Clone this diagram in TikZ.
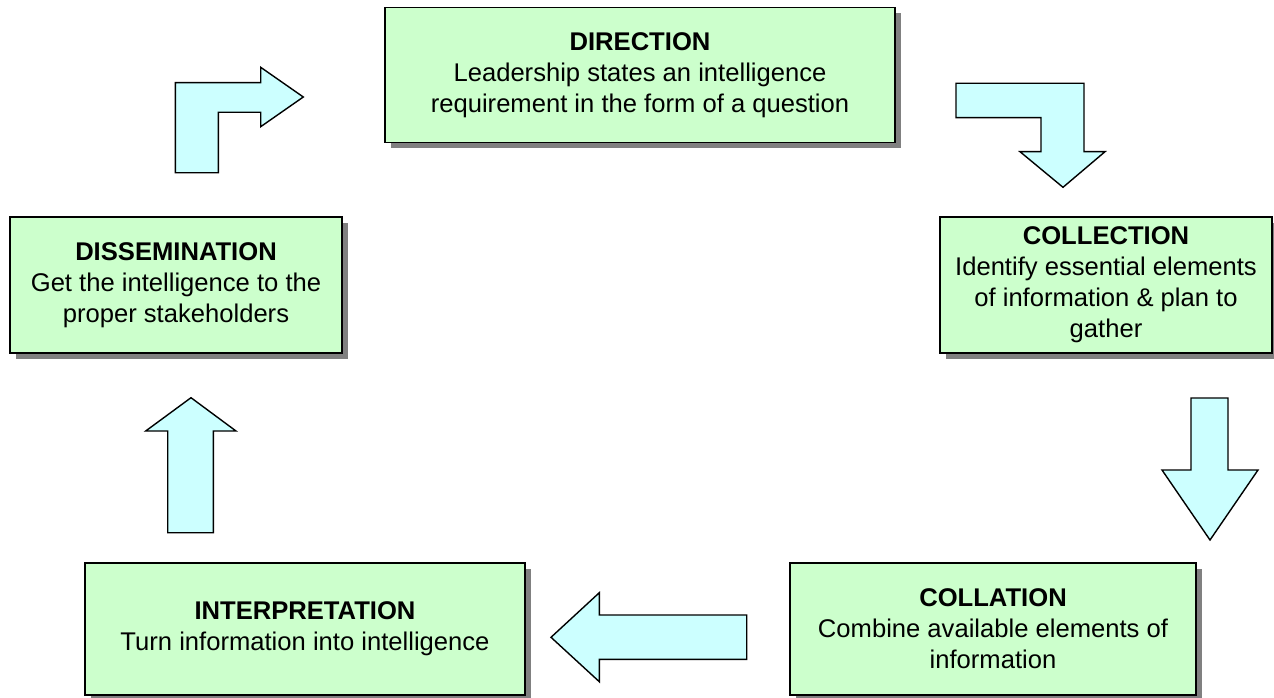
\documentclass[tikz,border=0pt]{standalone}
\usepackage{fontspec}
\setmainfont{Liberation Sans}
\usetikzlibrary{shadows}
\definecolor{boxgreen}{HTML}{CCFFCC}
\definecolor{arrowcyan}{HTML}{CCFFFF}
\definecolor{shadowgray}{HTML}{808080}
\tikzset{
  stage/.style={draw=black, line width=1.4pt, fill=boxgreen, align=center, inner sep=0pt,
    font=\fontsize{25.6}{31}\selectfont,
    drop shadow={shadow xshift=6pt, shadow yshift=-6pt, fill=shadowgray, opacity=1}},
  blockarrow/.style={draw=black, line width=1.4pt, fill=arrowcyan, line join=miter}
}
\begin{document}
\begin{tikzpicture}[x=1pt,y=-1pt]
\useasboundingbox (0,0) rectangle (1274,698);
\node[stage, minimum width=510pt, minimum height=135pt] (direction) at (640,75)
  {\textbf{DIRECTION}\\Leadership states an intelligence\\requirement in the form of a question};
\node[stage, minimum width=332pt, minimum height=136pt] (collection) at (1106,285)
  {\textbf{COLLECTION}\\Identify essential elements\\of information \& plan to\\gather};
\node[stage, minimum width=332pt, minimum height=136pt] (dissemination) at (176,285)
  {\textbf{DISSEMINATION}\\Get the intelligence to the\\proper stakeholders};
\node[stage, minimum width=440pt, minimum height=132pt] (interpretation) at (305,629)
  {\textbf{INTERPRETATION}\\Turn information into intelligence};
\node[stage, minimum width=406pt, minimum height=132pt] (collation) at (993,629)
  {\textbf{COLLATION}\\Combine available elements of\\information};
% dissemination -> direction (bent arrow)
\draw[blockarrow] (175.3,172.7) -- (175.3,82.7) -- (260.7,82.7) -- (260.7,67.3) -- (303.3,97)
  -- (260.7,126.7) -- (260.7,112.3) -- (218.3,112.3) -- (218.3,172.7) -- cycle;
% direction -> collection (bent arrow)
\draw[blockarrow] (956,83.3) -- (1084,83.3) -- (1084,151.7) -- (1105,151.7) -- (1063,187.3)
  -- (1020,151.7) -- (1041,151.7) -- (1041,117.7) -- (956,117.7) -- cycle;
% collection -> collation
\draw[blockarrow] (1191,398) -- (1228,398) -- (1228,470) -- (1258,470) -- (1210,540)
  -- (1162,470) -- (1191,470) -- cycle;
% collation -> interpretation
\draw[blockarrow] (746.7,615) -- (599.3,615) -- (599.3,592.7) -- (551,637.3) -- (599.3,681.7)
  -- (599.3,659.3) -- (746.7,659.3) -- cycle;
% interpretation -> dissemination
\draw[blockarrow] (167.7,532.7) -- (167.7,431) -- (145.7,431) -- (191,397.7) -- (236,431)
  -- (213.3,431) -- (213.3,532.7) -- cycle;
\end{tikzpicture}
\end{document}
